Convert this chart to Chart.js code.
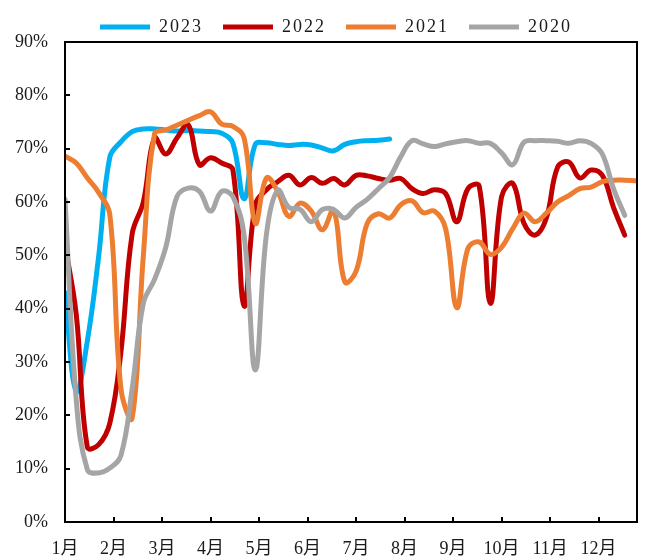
<!DOCTYPE html>
<html>
<head>
<meta charset="utf-8">
<script src="https://cdn.jsdelivr.net/npm/chart.js@4/dist/chart.umd.min.js"></script>
<style>
  html, body { margin: 0; padding: 0; background: #fff; }
  canvas { display: block; }
</style>
</head>
<body>
<canvas id="c" width="646" height="560"></canvas>
<script>
// Weekly utilisation rate (%), one value per week from the first week of January
const monthLabels = ['1月', '2月', '3月', '4月', '5月', '6月', '7月', '8月', '9月', '10月', '11月', '12月'];
const weeksPerMonth = 52 / 12;
const seriesNames = ['2023', '2022', '2021', '2020'];

const rate2023 = [43, 24.5, 34, 49.7, 68.4, 71.3, 73.2, 73.7, 73.7, 73.5, 73.3, 73.4, 73.3, 73.2, 72.9, 71,
  60.6, 70.8, 71.1, 70.8, 70.6, 70.8, 70.7, 70.1, 69.6, 70.8, 71.3, 71.5, 71.6, 71.8];

const rate2022 = [52, 39, 14, 14.5, 18.5, 32, 54, 60, 72, 69, 72, 74.5, 67, 68.3, 67.3, 66,
  40.5, 59.5, 62.3, 63.8, 65, 63.2, 64.6, 63.5, 64.4, 63.2, 65, 64.9, 64.4, 64.1, 64.4, 62.5,
  61.6, 62.3, 61.6, 56.3, 62.5, 63, 41, 61, 63.5, 56, 53.8, 57, 66.5, 67.5, 64.5, 66, 65, 59, 53.8];

const rate2021 = [68.6, 67.3, 64.5, 61.8, 57.7, 25, 19.5, 50, 72.8, 73.5, 74.4, 75.3, 76.2, 76.9, 74.6, 74.2,
  72, 56, 64.5, 62, 57.3, 59.8, 58.3, 54.8, 58.5, 45, 47, 56, 57.8, 57, 59.5, 60.2,
  58, 58.3, 55, 40.2, 51.3, 52.5, 50.2, 51.5, 55, 57.9, 56.3, 57.9, 60, 61.2, 62.5, 62.8, 63.8, 64.1, 64.1, 64];

const rate2020 = [60.5, 23, 9.8, 9.2, 10.1, 12.5, 25, 41, 45.5, 51.5, 61, 62.6, 62, 58.3, 62, 61,
  53.7, 28.5, 54, 62.2, 59, 58.6, 56.3, 58.6, 58.6, 57, 59, 60.5, 62.5, 64.6, 68.5, 71.5,
  70.9, 70.4, 70.9, 71.3, 71.5, 71, 71, 69.2, 67, 71.2, 71.5, 71.5, 71.4, 71, 71.5, 71, 69, 62.5, 57.5];

const yTickValues = [0, 10, 20, 30, 40, 50, 60, 70, 80, 90];

const seriesColors = ['#00B0F0', '#C00000', '#ED7D31', '#A5A5A5'];
const seriesData = [rate2023, rate2022, rate2021, rate2020];

const byWeek = values => values.map((v, week) => ({ x: week, y: v }));

const FONT = "'Liberation Serif', 'Times New Roman', 'Noto Sans CJK SC', serif";
Chart.defaults.font.family = FONT;
Chart.defaults.color = '#1a1a1a';

// Legend text is letter-spaced, the legend band has a fixed height and sits a little right of centre
const legendStyle = {
  id: 'legendStyle',
  beforeUpdate(chart) {
    const lg = chart.legend;
    if (!lg || lg._styled) return;
    lg._styled = true;
    const fit0 = lg.fit.bind(lg);
    const draw0 = lg.draw.bind(lg);
    lg.fit = function () {
      const c = this.ctx;
      c.save(); c.letterSpacing = '2px';
      fit0();
      c.restore();
      this.height = 42;
    };
    lg.draw = function () {
      const c = this.ctx;
      c.save(); c.letterSpacing = '2px'; c.translate(17.5, -2);
      draw0();
      c.restore();
    };
  }
};

// Plot frame with inward tick marks
const frame = {
  id: 'frame',
  afterDatasetsDraw(chart) {
    const { ctx, chartArea: a, scales: { x, y } } = chart;
    ctx.save();
    ctx.strokeStyle = '#000';
    ctx.lineWidth = 2;
    ctx.beginPath();
    y.ticks.forEach(t => {
      const py = Math.round(y.getPixelForValue(t.value));
      ctx.moveTo(a.left, py); ctx.lineTo(a.left + 5, py);
    });
    x.ticks.forEach(t => {
      const px = Math.round(x.getPixelForValue(t.value));
      ctx.moveTo(px, a.bottom); ctx.lineTo(px, a.bottom - 5);
    });
    ctx.stroke();
    ctx.strokeRect(a.left, a.top, a.right - a.left, a.bottom - a.top);
    ctx.restore();
  }
};

new Chart(document.getElementById('c'), {
  type: 'line',
  data: {
    datasets: seriesNames.map((name, i) => ({
      label: name,
      data: byWeek(seriesData[i]),
      borderColor: seriesColors[i],
      backgroundColor: seriesColors[i],
      borderWidth: 5,
      borderCapStyle: 'round',
      borderJoinStyle: 'round',
      pointRadius: 0,
      tension: 0.4,
      fill: false,
      order: seriesNames.length - 1 - i
    }))
  },
  options: {
    responsive: false,
    animation: false,
    devicePixelRatio: 1,
    layout: { padding: { top: 0, right: 9, bottom: 0, left: 0 } },
    plugins: {
      tooltip: { enabled: false },
      legend: {
        position: 'top',
        labels: {
          usePointStyle: true,
          pointStyle: 'line',
          pointStyleWidth: 50,
          padding: 20,
          color: '#1a1a1a',
          font: { family: FONT, size: 18 },
          sort: (a, b) => a.datasetIndex - b.datasetIndex
        }
      }
    },
    scales: {
      x: {
        type: 'linear',
        min: 0,
        max: 51.1,
        grid: { display: false, drawTicks: false },
        border: { display: false },
        afterBuildTicks: s => { s.ticks = monthLabels.map((_, k) => ({ value: k * weeksPerMonth })); },
        afterFit: s => { s.height = 38; },
        ticks: {
          autoSkip: false,
          maxRotation: 0,
          padding: 16,
          font: { family: FONT, size: 18 },
          callback: (v, idx) => monthLabels[idx]
        }
      },
      y: {
        min: 0,
        max: 90,
        grid: { display: false, drawTicks: false },
        border: { display: false },
        afterBuildTicks: s => { s.ticks = yTickValues.map(v => ({ value: v })); },
        afterFit: s => { s.width = 65; },
        ticks: {
          padding: 17,
          font: { family: FONT, size: 18 },
          callback: v => v + '%'
        }
      }
    }
  },
  plugins: [legendStyle, frame]
});
</script>
</body>
</html>
